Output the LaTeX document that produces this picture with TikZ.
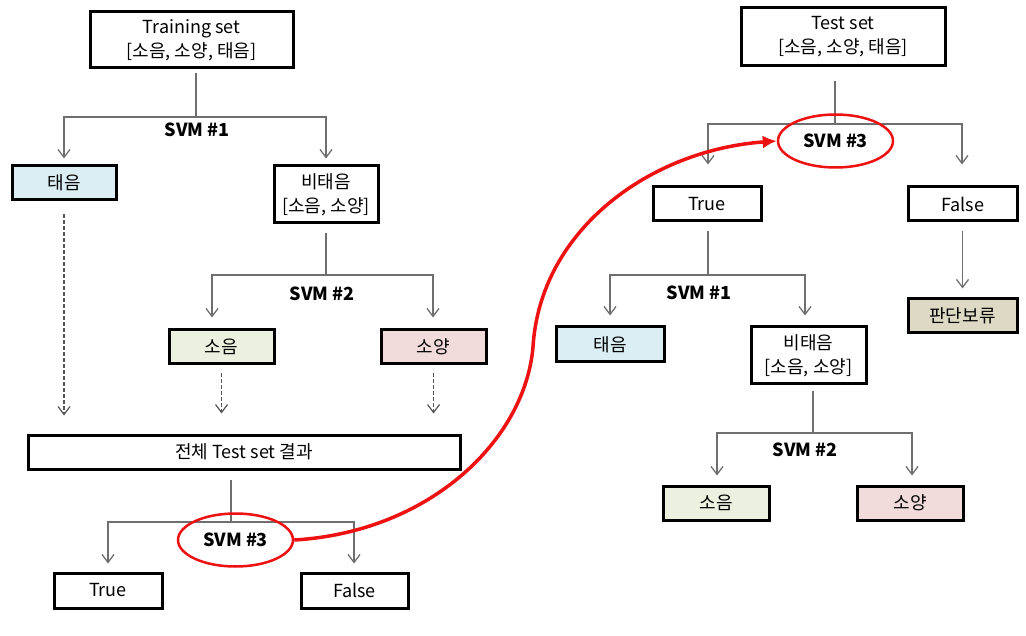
\documentclass[tikz,border=0pt]{standalone}
\usepackage{fontspec}
\setmainfont{Noto Sans CJK KR}
\usetikzlibrary{arrows.meta,shapes.geometric,calc}
\definecolor{cblue}{HTML}{DAEEF3}
\definecolor{colive}{HTML}{EBF1DE}
\definecolor{cpink}{HTML}{F2DCDB}
\definecolor{ctan}{HTML}{DDD9C4}
\definecolor{cgray}{HTML}{6F6F6F}
\definecolor{cdash}{HTML}{555555}
\definecolor{cred}{HTML}{EE1111}
\begin{document}
\begin{tikzpicture}[x=1pt,y=-1pt,
  box/.style={draw=black,line width=3pt,inner sep=0pt,align=center,font=\fontsize{18}{24}\selectfont},
  conn/.style={draw=cgray,line width=1.3pt},
  arr/.style={conn,-{Straight Barb[length=8pt,width=12pt]}},
  dasharr/.style={draw=cdash,line width=1.2pt,dash pattern=on 4pt off 2pt,-{Straight Barb[length=8pt,width=12pt]}},
  svm/.style={font=\bfseries\fontsize{18}{20}\selectfont},
  redell/.style={ellipse,draw=cred,line width=2.5pt,inner sep=0pt,minimum width=115pt,minimum height=53pt,font=\bfseries\fontsize{18}{20}\selectfont},
  redline/.style={draw=cred,line width=3.5pt,-{Latex[length=14pt,width=13pt]}}]
\useasboundingbox (0,0) rectangle (1026,636);

% ---------- left tree ----------
\node[box,minimum width=203pt,minimum height=56pt] (train) at (191.5,40) {Training set\\{}[소음, 소양, 태음]};
\node[box,fill=cblue,minimum width=104pt,minimum height=34pt] (Ltae) at (64,183) {태음};
\node[box,minimum width=104pt,minimum height=57pt] (Lbitae) at (326,194.5) {비태음\\{}[소음, 소양]};
\node[box,fill=colive,minimum width=105pt,minimum height=34pt] (Lsoeum) at (221.5,347) {소음};
\node[box,fill=cpink,minimum width=105pt,minimum height=34pt] (Lsoyang) at (433.5,347) {소양};
\node[box,minimum width=432pt,minimum height=34pt] (Lall) at (244,452) {전체 Test set 결과};
\node[box,minimum width=108pt,minimum height=35pt] (Ltrue) at (108,590.5) {True};
\node[box,minimum width=107pt,minimum height=35pt] (Lfalse) at (354.5,590.5) {False};

\node[svm] (Ls1) at (197,130) {SVM \#1};
\node[svm] (Ls2) at (322,294) {SVM \#2};

\coordinate (b1) at (196,117);
\coordinate (b1l) at (64,117);
\coordinate (b1r) at (326,117);
\draw[conn,shorten <=4pt] (train.south -| b1) -- (b1);
\draw[arr,shorten >=6pt] (b1) -- (b1l) -- (b1l |- Ltae.north);
\draw[arr,shorten >=6pt] (b1) -- (b1r) -- (b1r |- Lbitae.north);

\coordinate (b2) at (326,275);
\coordinate (b2l) at (212,275);
\coordinate (b2r) at (433,275);
\draw[conn,shorten <=9pt] (Lbitae.south) -- (b2);
\draw[arr,shorten >=11pt] (b2) -- (b2l) -- (b2l |- Lsoeum.north);
\draw[arr,shorten >=11pt] (b2) -- (b2r) -- (b2r |- Lsoyang.north);

\draw[dasharr,shorten <=13pt,shorten >=18pt] (Ltae.south) -- (Ltae.south |- Lall.north);
\draw[dasharr,shorten <=8pt,shorten >=20pt] (Lsoeum.south) -- (Lsoeum.south |- Lall.north);
\draw[dasharr,shorten <=8pt,shorten >=20pt] (Lsoyang.south) -- (Lsoyang.south |- Lall.north);

\coordinate (b3) at (231,522);
\coordinate (b3l) at (108,522);
\coordinate (b3r) at (354,522);
\draw[conn,shorten <=9pt] (Lall.south -| b3) -- (b3);
\draw[arr,shorten >=8pt] (b3) -- (b3l) -- (b3l |- Ltrue.north);
\draw[arr,shorten >=8pt] (b3) -- (b3r) -- (b3r |- Lfalse.north);
\node[redell] (Ls3) at (235.5,540) {SVM \#3};

% ---------- right tree ----------
\node[box,minimum width=204pt,minimum height=58pt] (test) at (843,37) {Test set\\{}[소음, 소양, 태음]};
\node[box,minimum width=108pt,minimum height=34pt] (Rtrue) at (707,204) {True};
\node[box,minimum width=109pt,minimum height=34pt] (Rfalse) at (962.5,204) {False};
\node[box,fill=ctan,minimum width=109pt,minimum height=34pt] (Rhold) at (962.5,316) {판단보류};
\node[box,fill=cblue,minimum width=108pt,minimum height=35pt] (Rtae) at (610,344.5) {태음};
\node[box,minimum width=115pt,minimum height=57pt] (Rbitae) at (808.5,355.5) {비태음\\{}[소음, 소양]};
\node[box,fill=colive,minimum width=106pt,minimum height=34pt] (Rsoeum) at (716,503) {소음};
\node[box,fill=cpink,minimum width=106pt,minimum height=34pt] (Rsoyang) at (910,503) {소양};

\node[svm] (Rs1) at (699,293) {SVM \#1};
\node[svm] (Rs2) at (805,450) {SVM \#2};

\coordinate (b4) at (835,124);
\coordinate (b4l) at (708,124);
\coordinate (b4r) at (962,124);
\draw[conn,shorten <=14pt] (test.south -| b4) -- (b4);
\draw[arr,shorten >=21pt] (b4) -- (b4l) -- (b4l |- Rtrue.north);
\draw[arr,shorten >=21pt] (b4) -- (b4r) -- (b4r |- Rfalse.north);
\node[redell] (Rs3) at (835.5,141) {SVM \#3};

\coordinate (b5) at (708,275);
\coordinate (b5l) at (610,275);
\coordinate (b5r) at (805,275);
\draw[conn,shorten <=9pt] (Rtrue.south -| b5) -- (b5);
\draw[arr,shorten >=10pt] (b5) -- (b5l) -- (b5l |- Rtae.north);
\draw[arr,shorten >=10pt] (b5) -- (b5r) -- (b5r |- Rbitae.north);

\draw[arr,shorten <=9pt,shorten >=9pt] (Rfalse.south) -- (Rhold.north);

\coordinate (b6) at (813,433);
\coordinate (b6l) at (717,433);
\coordinate (b6r) at (912,433);
\draw[conn,shorten <=6pt] (Rbitae.south -| b6) -- (b6);
\draw[arr,shorten >=9pt] (b6) -- (b6l) -- (b6l |- Rsoeum.north);
\draw[arr,shorten >=9pt] (b6) -- (b6r) -- (b6r |- Rsoyang.north);

% ---------- red link ----------
\coordinate (mid) at (533,347);
\draw[redline] (Ls3.east) .. controls (430,532) and (525,440) .. (mid) .. controls (540,230) and (650,150) .. (Rs3.west);
\end{tikzpicture}
\end{document}
